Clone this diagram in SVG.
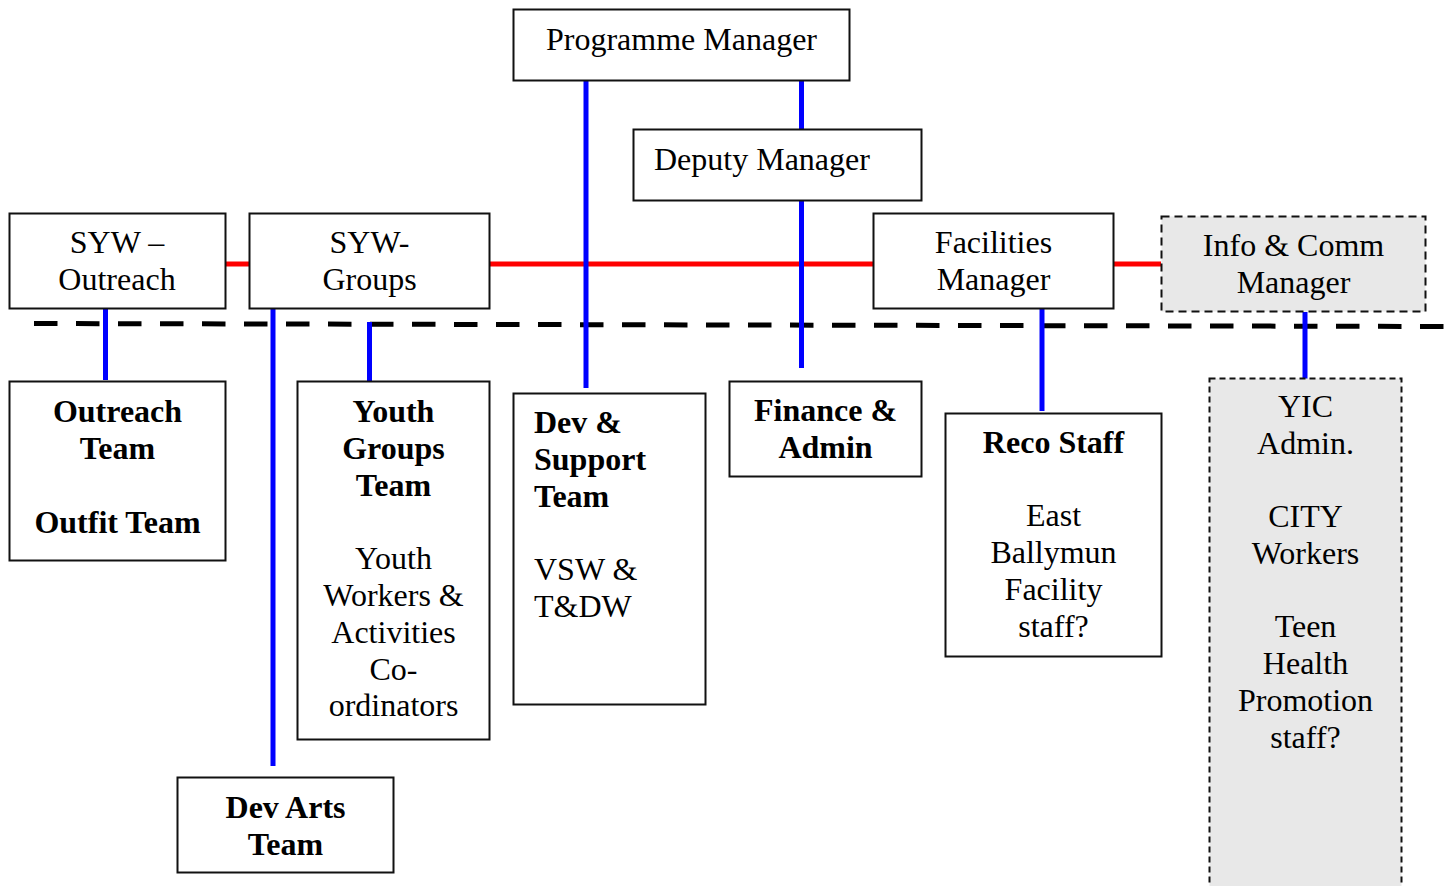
<svg xmlns="http://www.w3.org/2000/svg" width="1452" height="886" viewBox="0 0 1452 886">
<style>
.box{fill:#fff;stroke:#111;stroke-width:2}
.dbox{fill:#e8e8e8;stroke:#111;stroke-width:2;stroke-dasharray:8 5}
.dbox2{fill:#e8e8e8;stroke:#111;stroke-width:2;stroke-dasharray:6 4}
text{font-family:"Liberation Serif","Times New Roman",serif;font-size:32px;fill:#000}
.c{text-anchor:middle}
.b{font-weight:bold}
.blue{stroke:#0000ff;stroke-width:5;fill:none}
.red{stroke:#ff0000;stroke-width:5;fill:none}
.dash{stroke:#000;stroke-width:5;stroke-dasharray:23.5 18.5;fill:none}
</style>
<rect width="1452" height="886" fill="#fff"/>
<g id="connectors">
<line class="red" x1="226" y1="264" x2="249" y2="264"/>
<line class="red" x1="490" y1="264" x2="873" y2="264"/>
<line class="red" x1="1114" y1="264" x2="1161" y2="264"/>
<line class="dash" x1="34" y1="323.5" x2="1452" y2="326.5"/>
<line class="blue" x1="105.5" y1="309" x2="105.5" y2="380"/>
<line class="blue" x1="273" y1="309" x2="273" y2="766"/>
<line class="blue" x1="369.5" y1="322" x2="369.5" y2="392"/>
<line class="blue" x1="586" y1="81" x2="586" y2="388"/>
<line class="blue" x1="801.5" y1="81" x2="801.5" y2="129"/>
<line class="blue" x1="801.5" y1="201" x2="801.5" y2="368"/>
<line class="blue" x1="1042" y1="309" x2="1042" y2="411"/>
<line class="blue" x1="1305" y1="312" x2="1305" y2="379"/>
</g>
<g id="programme-manager">
<rect class="box" x="513.5" y="9.5" width="336" height="71"/>
<text class="c" x="681.5" y="50">Programme Manager</text>
</g>
<g id="deputy-manager">
<rect class="box" x="633.5" y="129.5" width="288" height="71"/>
<text x="654" y="170">Deputy Manager</text>
</g>
<g id="syw-outreach">
<rect class="box" x="9.5" y="213.5" width="216" height="95"/>
<text class="c" x="117" y="253">SYW –</text>
<text class="c" x="117" y="290">Outreach</text>
</g>
<g id="syw-groups">
<rect class="box" x="249.5" y="213.5" width="240" height="95"/>
<text class="c" x="369.5" y="253">SYW-</text>
<text class="c" x="369.5" y="290">Groups</text>
</g>
<g id="facilities-manager">
<rect class="box" x="873.5" y="213.5" width="240" height="95"/>
<text class="c" x="993.5" y="253">Facilities</text>
<text class="c" x="993.5" y="290">Manager</text>
</g>
<g id="info-comm-manager">
<rect class="dbox" x="1161.5" y="216.5" width="264" height="95"/>
<text class="c" x="1293.5" y="256">Info &amp; Comm</text>
<text class="c" x="1293.5" y="293">Manager</text>
</g>
<g id="outreach-team">
<rect class="box" x="9.5" y="381.5" width="216" height="179"/>
<text class="c b" x="117.5" y="422">Outreach</text>
<text class="c b" x="117.5" y="459">Team</text>
<text class="c b" x="117.5" y="533">Outfit Team</text>
</g>
<g id="youth-groups-team">
<rect class="box" x="297.5" y="381.5" width="192" height="358"/>
<text class="c b" x="393.5" y="422">Youth</text>
<text class="c b" x="393.5" y="459">Groups</text>
<text class="c b" x="393.5" y="496">Team</text>
<text class="c" x="393.5" y="569">Youth</text>
<text class="c" x="393.5" y="606">Workers &amp;</text>
<text class="c" x="393.5" y="643">Activities</text>
<text class="c" x="393.5" y="680">Co-</text>
<text class="c" x="393.5" y="716">ordinators</text>
</g>
<g id="dev-support-team">
<rect class="box" x="513.5" y="393.5" width="192" height="311"/>
<text class="b" x="534" y="433">Dev &amp;</text>
<text class="b" x="534" y="470">Support</text>
<text class="b" x="534" y="507">Team</text>
<text x="534" y="580">VSW &amp;</text>
<text x="534" y="617">T&amp;DW</text>
</g>
<g id="finance-admin">
<rect class="box" x="729.5" y="381.5" width="192" height="95"/>
<text class="c b" x="825.5" y="421">Finance &amp;</text>
<text class="c b" x="825.5" y="458">Admin</text>
</g>
<g id="reco-staff">
<rect class="box" x="945.5" y="413.5" width="216" height="243"/>
<text class="c b" x="1053.5" y="453">Reco Staff</text>
<text class="c" x="1053.5" y="526">East</text>
<text class="c" x="1053.5" y="563">Ballymun</text>
<text class="c" x="1053.5" y="600">Facility</text>
<text class="c" x="1053.5" y="637">staff?</text>
</g>
<g id="yic">
<rect class="dbox2" x="1209.5" y="378.5" width="192" height="520"/>
<text class="c" x="1305.5" y="417">YIC</text>
<text class="c" x="1305.5" y="454">Admin.</text>
<text class="c" x="1305.5" y="527">CITY</text>
<text class="c" x="1305.5" y="564">Workers</text>
<text class="c" x="1305.5" y="637">Teen</text>
<text class="c" x="1305.5" y="674">Health</text>
<text class="c" x="1305.5" y="711">Promotion</text>
<text class="c" x="1305.5" y="748">staff?</text>
</g>
<g id="dev-arts-team">
<rect class="box" x="177.5" y="777.5" width="216" height="95"/>
<text class="c b" x="285.5" y="818">Dev Arts</text>
<text class="c b" x="285.5" y="855">Team</text>
</g>
</svg>
